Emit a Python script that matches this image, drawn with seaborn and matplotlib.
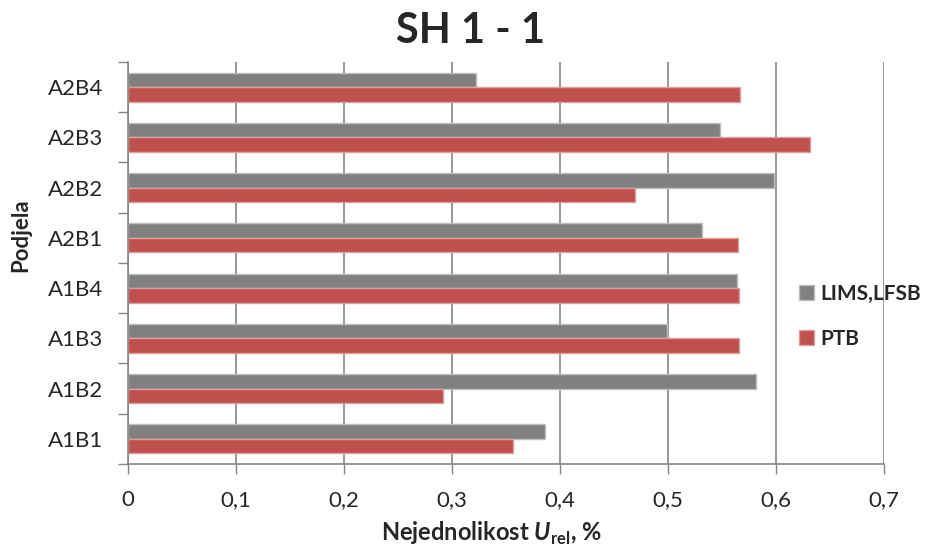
import numpy as np
import pandas as pd
import matplotlib
matplotlib.use("Agg")
import matplotlib.pyplot as plt
import seaborn as sns

# categories (top to bottom as drawn)
categories = ["A2B4", "A2B3", "A2B2", "A2B1", "A1B4", "A1B3", "A1B2", "A1B1"]
lims_lfsb = [0.322, 0.548, 0.598, 0.531, 0.564, 0.499, 0.581, 0.386]
ptb = [0.567, 0.631, 0.469, 0.565, 0.566, 0.566, 0.292, 0.356]
series = ["LIMS,LFSB", "PTB"]
xticks = [0, 0.1, 0.2, 0.3, 0.4, 0.5, 0.6, 0.7]
xticklabels = ["0", "0,1", "0,2", "0,3", "0,4", "0,5", "0,6", "0,7"]

sns.set_style("white")
plt.rcParams["font.family"] = ["Lato", "DejaVu Sans"]
plt.rcParams["mathtext.fontset"] = "custom"
plt.rcParams["mathtext.bfit"] = "Lato:italic:bold"
plt.rcParams["mathtext.bf"] = "Lato:bold"
plt.rcParams["mathtext.rm"] = "Lato"

#Long form table for seaborn
df = pd.DataFrame({
    "cat": categories * 2,
    "val": lims_lfsb + ptb,
    "series": [series[0]] * len(categories) + [series[1]] * len(categories),
})

fig = plt.figure(figsize=(9.25, 5.48), dpi=100)
ax = fig.add_axes([0.1384, 0.1533, 0.8173, 0.7336])

colors = {"LIMS,LFSB": "#808080", "PTB": "#C0504D"}
edges = {"LIMS,LFSB": "#BEBEBE", "PTB": "#D9A09E"}
sns.barplot(data=df, x="val", y="cat", hue="series", order=categories,
            hue_order=series, palette=colors, width=0.58, orient="h",
            saturation=1, ax=ax, legend=False)

#Bar outlines
for cont, s in zip(ax.containers, series):
    for p in cont:
        p.set_edgecolor(edges[s])
        p.set_linewidth(1)

ax.set_xlim(0, 0.7)
ax.set_ylim(7.5, -0.5)
ax.set_xticks(xticks)
ax.set_xticklabels(xticklabels, fontsize=16)
ax.set_yticks(range(len(categories)))
ax.set_yticklabels(categories, fontsize=16)
ax.set_yticks(np.arange(-0.5, len(categories)), minor=True)
ax.tick_params(axis="y", which="major", length=0, pad=18)
ax.tick_params(axis="y", which="minor", length=7, width=1, color="#868686", left=True)
ax.tick_params(axis="x", which="major", length=7, width=1, color="#868686", bottom=True, pad=12)

ax.grid(axis="x", color="#868686", linewidth=1.2)
ax.set_axisbelow(True)
sns.despine(ax=ax, top=True, right=True)
for s in ["left", "bottom"]:
    ax.spines[s].set_color("#868686")
    ax.spines[s].set_linewidth(1.2)

ax.set_ylabel("Podjela", fontsize=16, fontweight="bold")
ax.yaxis.set_label_coords(-0.128, 0.57)
ax.set_xlabel(r"Nejednolikost $\mathbfit{U}_{\mathbf{rel}}$, %", fontsize=17,
              fontweight="bold")
ax.xaxis.set_label_coords(0.48, -0.14)
fig.text(0.509, 0.943, "SH 1 - 1", fontsize=30, fontweight="bold",
         ha="center", va="center")

#Legend on the right
handles = [plt.Rectangle((0, 0), 1, 1, facecolor=colors[s], edgecolor=edges[s]) for s in series]
fig.legend(handles, series, loc="center left", bbox_to_anchor=(0.853, 0.423),
           frameon=False, prop={"weight": "bold", "size": 15}, borderpad=0,
           handlelength=0.7, handleheight=0.7, handletextpad=0.3, labelspacing=1.2)

fig.savefig("out.png", dpi=100)
